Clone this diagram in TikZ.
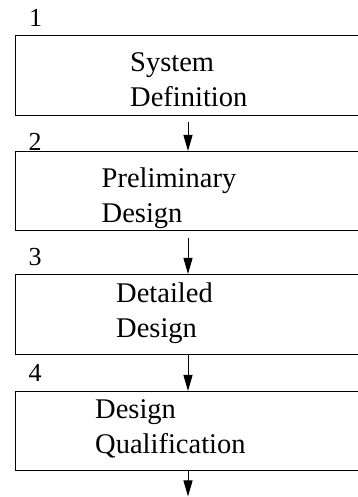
\documentclass[tikz,border=0pt]{standalone}
\usepackage{fontspec}
\setmainfont{Liberation Serif}
\usetikzlibrary{arrows.meta}
\begin{document}
\begin{tikzpicture}[x=1pt,y=1pt,
  stagebox/.style={draw,line width=1.3pt,rectangle,minimum width=370pt,minimum height=80pt,anchor=north west,inner sep=0pt},
  label/.style={font=\fontsize{28.5}{35}\selectfont,anchor=base west,inner sep=0pt,text width=220pt,align=left},
  num/.style={font=\fontsize{26}{30}\selectfont,anchor=base west,inner sep=0pt},
  flow/.style={line width=1pt,-{Triangle[length=16pt,width=9pt]}}]
\useasboundingbox (0,0) rectangle (357,497);
\coordinate (ax) at (188,0);
\coordinate (endp) at (188,0.5);
% boxes (top y in px from top: 35,151,274,391)
\node[stagebox,minimum height=80pt] (b1) at (15,462) {};
\node[stagebox,minimum height=79pt] (b2) at (15,346) {};
\node[stagebox,minimum height=80pt] (b3) at (15,223) {};
\node[stagebox,minimum height=79pt] (b4) at (15,106) {};
% texts
\node[label] (t1) at (130,425.5) {System\\Definition};
\node[label] (t2) at (101.5,309) {Preliminary\\Design};
\node[label] (t3) at (116,194) {Detailed\\Design};
\node[label] (t4) at (95,78) {Design\\Qualification};
% numbers
\node[num] (n1) at (29,470) {1};
\node[num] (n2) at (28.5,346) {2};
\node[num] (n3) at (28.5,231) {3};
\node[num] (n4) at (28.5,115.5) {4};
% arrows
\draw[flow] ([yshift=-6pt]b1.south -| ax) -- (b2.north -| ax);
\draw[flow] ([yshift=-7pt]b2.south -| ax) -- (b3.north -| ax);
\draw[flow] (b3.south -| ax) -- (b4.north -| ax);
\draw[flow] (b4.south -| ax) -- (endp);
\end{tikzpicture}
\end{document}
